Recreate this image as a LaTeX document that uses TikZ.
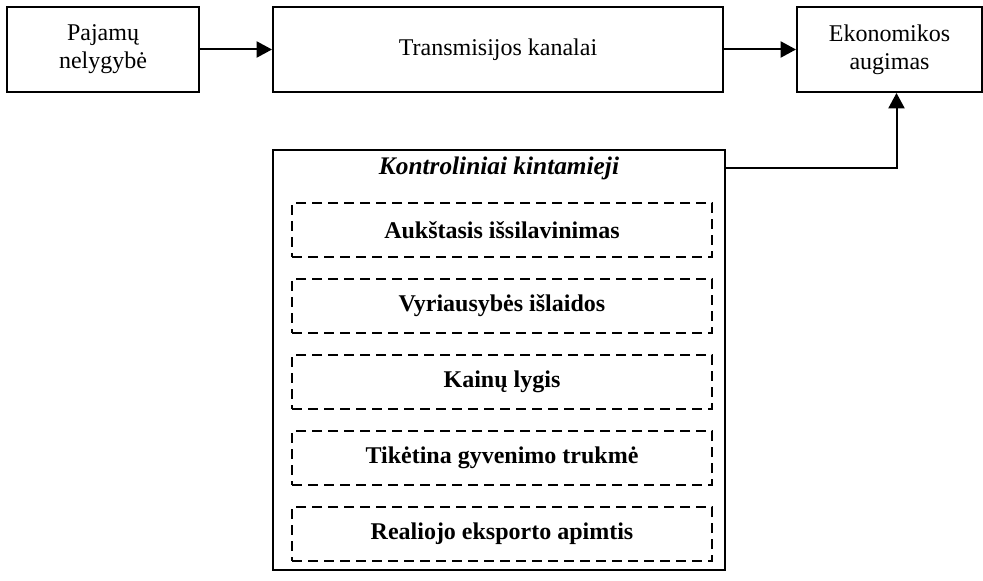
\documentclass[tikz,border=0pt]{standalone}
\usepackage{fontspec}
\setmainfont{Liberation Serif}
\usetikzlibrary{positioning, arrows.meta}
\tikzset{
  box/.style={rectangle, draw=black, line width=1.5pt, minimum height=63.75pt, align=center},
  var/.style={rectangle, draw=black, line width=1.5pt, dash pattern=on 7.5pt off 4.5pt, minimum width=315pt, minimum height=40.5pt, font=\fontsize{18}{21}\selectfont\bfseries},
  frame/.style={rectangle, draw=black, line width=1.5pt, minimum width=339pt, minimum height=315pt}
}
\tikzstyle{arrow} = [line width=1.5pt,black,-{Triangle[length=11.5pt,width=12pt]}]

\begin{document}
\begin{tikzpicture}[x=0.75pt,y=-0.75pt,node distance=15pt,every node/.append style={align=center},font=\fontsize{18}{21}\selectfont]
    \useasboundingbox (0,0) rectangle (983,581);
    \node [box, minimum width=144pt] (a) at (103,49.5) {Pajamų\\nelygybė};
    \node [box, minimum width=337.5pt] (b) at (498,49.5) {Transmisijos kanalai};
    \node [box, minimum width=138.75pt] (c) at (889.5,49.5) {Ekonomikos\\augimas};

    \node [frame] (k) at (499,360) {};
    \node [font=\fontsize{19}{22}\selectfont\bfseries\itshape] (k0) at (499,168) {Kontroliniai kintamieji};
    \node [var] (k1) at (502,230) {Aukštasis išsilavinimas};
    \node [var, below=of k1] (k2) {Vyriausybės išlaidos};
    \node [var, below=of k2] (k3) {Kainų lygis};
    \node [var, below=of k3] (k4) {Tikėtina gyvenimo trukmė};
    \node [var, below=of k4] (k5) {Realiojo eksporto apimtis};

    \draw [arrow] (a) -- (b);
    \draw [arrow] (b) -- (c);
    \draw [arrow] (k.east |- k0) -| ([xshift=5.25pt]c.south);
\end{tikzpicture}
\end{document}
